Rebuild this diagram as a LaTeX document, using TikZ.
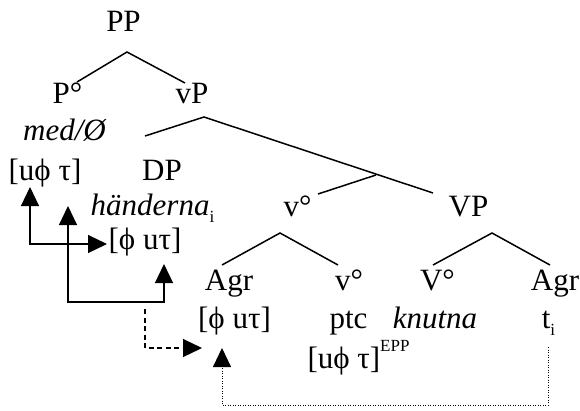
\documentclass[tikz,border=0pt]{standalone}
\usepackage{fontspec}
\setmainfont{Liberation Serif}
\usetikzlibrary{arrows.meta,calc}
\tikzset{
  catnode/.style={inner sep=0pt,anchor=base,font=\fontsize{31}{36}\selectfont},
  wordnode/.style={catnode,font=\fontsize{31}{36}\selectfont\itshape},
  treeline/.style={line width=1.5pt},
  agreearr/.style={{Triangle[length=19pt,width=18pt]}-{Triangle[length=19pt,width=18pt]},line width=1.2pt},
  checkarr/.style={-{Triangle[length=19pt,width=18pt]},line width=1.2pt,dash pattern=on 5pt off 3.5pt},
  tracearr/.style={-{Triangle[length=19pt,width=18pt]},line width=1pt,dash pattern=on 1pt off 1.5pt}
}
\newcommand{\subidx}{\raisebox{-7pt}{\fontsize{17}{19}\selectfont\upshape i}}
\newcommand{\supepp}{\raisebox{17pt}{\fontsize{17}{19}\selectfont EPP}}

\begin{document}
\begin{tikzpicture}[x=1pt,y=-1pt]
  \useasboundingbox (0,0) rectangle (580,410);
  % categories and words
  \node[catnode] (PP) at (123.5,31) {PP};
  \node[catnode] (Po) at (67.5,103) {P°};
  \node[catnode] (vP) at (192,103) {vP};
  \node[wordnode] (med) at (64.5,140) {med/Ø};
  \node[catnode] (uft1) at (45,180) {[uϕ τ]};
  \node[catnode] (DP) at (162,180) {DP};
  \node[wordnode] (hand) at (152.5,215) {händerna\subidx};
  \node[catnode] (fut1) at (145,249) {[ϕ uτ]};
  \node[catnode] (vo) at (297.5,216) {v°};
  \node[catnode] (VP) at (468.5,216) {VP};
  \node[catnode] (Agr1) at (229,290) {Agr};
  \node[catnode] (vo2) at (349,290) {v°};
  \node[catnode] (Vo) at (437.5,290) {V°};
  \node[catnode] (Agr2) at (555,290) {Agr};
  \node[catnode] (fut2) at (234.5,328) {[ϕ uτ]};
  \node[catnode] (ptc) at (348.5,328) {ptc};
  \node[wordnode] (knut) at (435,328) {knutna};
  \node[catnode] (trace) at (548.5,328) {t\subidx};
  \node[catnode] (uft2) at (358.5,368) {[uϕ τ]\supepp};
  % branch points
  \coordinate (PPtop) at (127,52);
  \coordinate (PPl) at (77,82);
  \coordinate (PPr) at (185,83);
  \coordinate (vPtop) at (204,117);
  \coordinate (vPl) at (145,136);
  \coordinate (vPr) at (433,193);
  \coordinate (vbar) at (376,175);
  \coordinate (vbarl) at (318,194);
  \coordinate (votop) at (280,233);
  \coordinate (vol) at (222,265);
  \coordinate (vor) at (338,265);
  \coordinate (VPtop) at (492,233);
  \coordinate (VPl) at (433,265);
  \coordinate (VPr) at (550,265);
  \draw[treeline] (PPl) -- (PPtop) -- (PPr);
  \draw[treeline] (vPl) -- (vPtop) -- (vPr);
  \draw[treeline] (vbarl) -- (vbar);
  \draw[treeline] (vol) -- (votop) -- (vor);
  \draw[treeline] (VPl) -- (VPtop) -- (VPr);
  % feature arrows
  \coordinate (a1s) at (30,187);
  \coordinate (a1e) at (107,244);
  \coordinate (a2s) at (68,206);
  \coordinate (a2e) at (164,264);
  \coordinate (d1s) at (145,309);
  \coordinate (d1e) at (202,348);
  \coordinate (t1s) at (548,347);
  \coordinate (t1e) at (222,348);
  \draw[agreearr] (a1s) |- (a1e);
  \draw[agreearr] (a2s) -- ++(0,96) -| (a2e);
  \draw[checkarr] (d1s) |- (d1e);
  \draw[tracearr] (t1s) -- ++(0,58) -| (t1e);
\end{tikzpicture}
\end{document}
